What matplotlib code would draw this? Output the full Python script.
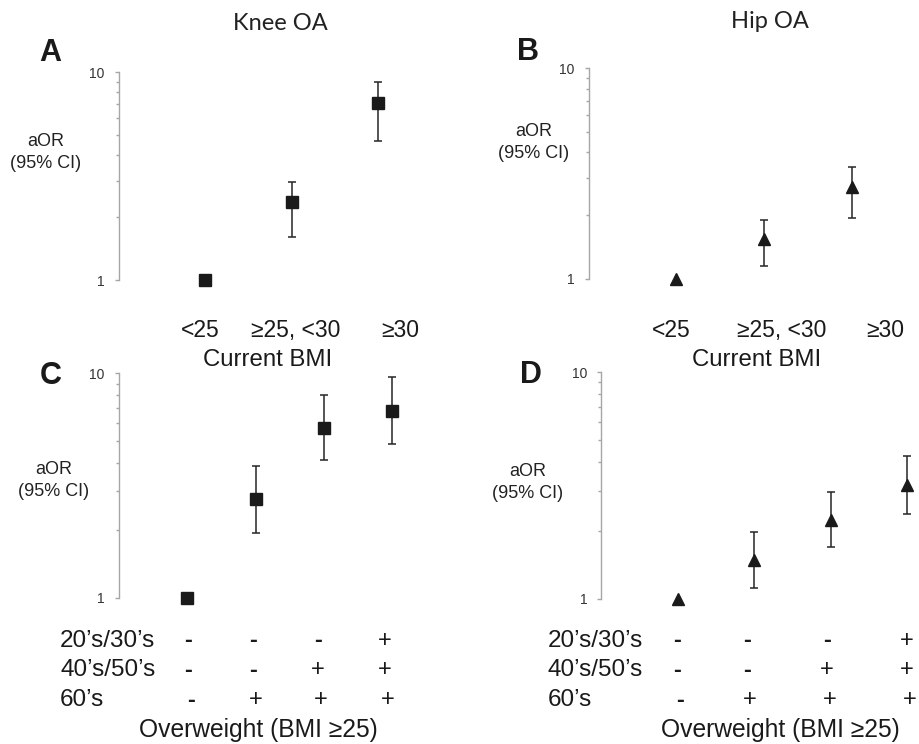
import matplotlib
matplotlib.use("Agg")
import matplotlib.pyplot as plt
from matplotlib.ticker import FixedLocator, NullFormatter, FixedFormatter

W, H = 919, 744

# Oberes Paar: aktueller BMI
bmi_groups = ['<25', '≥25, <30', '≥30']
knee_bmi_or = [1.0, 2.38, 7.07]
knee_bmi_lo = [1.0, 1.61, 4.66]
knee_bmi_hi = [1.0, 2.97, 8.92]
hip_bmi_or = [1.0, 1.55, 2.72]
hip_bmi_lo = [1.0, 1.15, 1.94]
hip_bmi_hi = [1.0, 1.90, 3.38]

# Unteres Paar: Übergewicht nach Lebensalter
age_rows = ['20’s/30’s', '40’s/50’s', '60’s']
overweight = [['-', '-', '-', '+'],
              ['-', '-', '+', '+'],
              ['-', '+', '+', '+']]
knee_age_or = [1.0, 2.75, 5.72, 6.81]
knee_age_lo = [1.0, 1.95, 4.11, 4.86]
knee_age_hi = [1.0, 3.86, 8.00, 9.63]
hip_age_or = [1.0, 1.49, 2.22, 3.17]
hip_age_lo = [1.0, 1.12, 1.69, 2.37]
hip_age_hi = [1.0, 1.98, 2.97, 4.28]

SANS = 'Liberation Sans'
fig = plt.figure(figsize=(W / 100, H / 100), dpi=100)


def ftext(x, y, s, **kw):
    # Text in Pixelkoordinaten (von oben links)
    kw.setdefault('family', SANS)
    kw.setdefault('ha', 'center')
    kw.setdefault('va', 'center')
    fig.text(x / W, 1 - y / H, s, **kw)


def make_ax(left, top, right, bottom, xmax):
    ax = fig.add_axes([left / W, 1 - bottom / H, (right - left) / W, (bottom - top) / H])
    ax.set_yscale('log')
    ax.set_ylim(1, 10)
    ax.set_xlim(-1, xmax)
    for s in ['top', 'right', 'bottom']:
        ax.spines[s].set_visible(False)
    ax.spines['left'].set_color('#a6a6a6')
    ax.spines['left'].set_linewidth(1.0)
    ax.set_xticks([])
    ax.yaxis.set_major_locator(FixedLocator([1, 10]))
    ax.yaxis.set_major_formatter(FixedFormatter(['1', '10']))
    ax.yaxis.set_minor_locator(FixedLocator(range(2, 10)))
    ax.yaxis.set_minor_formatter(NullFormatter())
    ax.tick_params(axis='y', which='major', length=3.2, width=1, color='#a6a6a6',
                   labelsize=10, labelcolor='#333333', pad=7)
    ax.tick_params(axis='y', which='minor', length=2.4, width=1, color='#a6a6a6')
    for lab in ax.get_yticklabels():
        lab.set_family(SANS)
    ax.patch.set_visible(False)
    return ax


def draw(ax, vals, lo, hi, marker, ms):
    x = list(range(len(vals)))
    err = [[v - l for v, l in zip(vals[1:], lo[1:])],
           [h - v for v, h in zip(vals[1:], hi[1:])]]
    ax.errorbar(x[1:], vals[1:], yerr=err, fmt='none', ecolor='#262626',
                elinewidth=1.1, capsize=3, capthick=1.1, clip_on=False)
    ax.plot(x, vals, linestyle='none', marker=marker, markersize=ms,
            color='#1a1a1a', clip_on=False, zorder=3)


axA = make_ax(119, 72, 439, 280, 2.70)
draw(axA, knee_bmi_or, knee_bmi_lo, knee_bmi_hi, 's', 8)
axB = make_ax(588.7, 68.3, 913, 278.7, 2.70)
draw(axB, hip_bmi_or, hip_bmi_lo, hip_bmi_hi, '^', 9)
axC = make_ax(119, 373.3, 433, 597.7, 3.60)
draw(axC, knee_age_or, knee_age_lo, knee_age_hi, 's', 8)
axD = make_ax(601.3, 372, 918, 599, 3.145)
draw(axD, hip_age_or, hip_age_lo, hip_age_hi, '^', 9)

# Titel
ftext(280, 23, 'Knee OA', family='Lato', fontsize=17, color='#222222')
ftext(770, 22, 'Hip OA', family='Lato', fontsize=17, color='#222222')

# Panelbuchstaben
for x, y, s in [(50, 53, 'A'), (528, 52, 'B'), (51, 376, 'C'), (531, 375, 'D')]:
    ftext(x, y, s, fontsize=22, fontweight='bold', color='#1a1a1a')

# y-Achsentitel
for x, y in [(46, 142), (534, 132), (54, 469), (528, 472)]:
    ftext(x, y, 'aOR', fontsize=13, color='#222222')
    ftext(x, y + 22, '(95% CI)', fontsize=13, color='#222222')

# Kategorien oben
for xs, y in [([200, 296, 400], 330), ([671, 782, 885], 330)]:
    for x, s in zip(xs, bmi_groups):
        ftext(x, y, s, fontsize=16.5, color='#1a1a1a')
ftext(268, 360, 'Current BMI', fontsize=17.3, color='#1a1a1a')
ftext(757, 360, 'Current BMI', fontsize=17.3, color='#1a1a1a')

# Tabellen unten
row_y = [641, 670, 700]
for lab_x, cols, title_x in [(60, [188, 253, 318, 385], 258),
                             (548, [677, 747, 827, 907], 780)]:
    for r, (lab, y) in enumerate(zip(age_rows, row_y)):
        ftext(lab_x, y, lab, ha='left', fontsize=17.5, color='#1a1a1a')
        for c, x in enumerate(cols):
            dx = 3 if (r == 2) else 0
            ftext(x + dx, y, overweight[r][c], fontsize=17, color='#1a1a1a',
                  fontweight='bold' if overweight[r][c] == '-' else 'normal')
    ftext(title_x, 730, 'Overweight (BMI ≥25)', fontsize=17.7, color='#1a1a1a')

fig.savefig('out.png', dpi=100, facecolor='white')
